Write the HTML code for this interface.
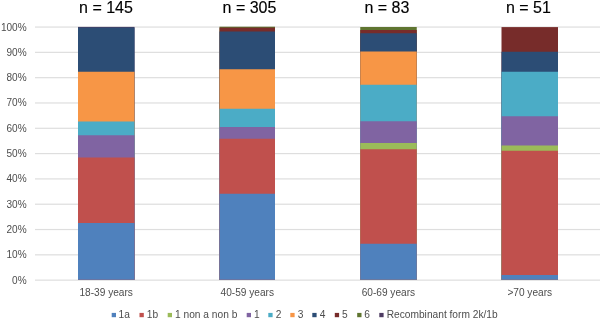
<!DOCTYPE html><html><head><meta charset="utf-8"><style>
html,body{margin:0;padding:0;background:#fff}
body{width:600px;height:321px;position:relative;overflow:hidden;font-family:"Liberation Sans",sans-serif}
.t{position:absolute;white-space:nowrap;line-height:1;filter:blur(0.3px)}
.y{font-size:10.05px;color:#4d4d4d;width:30px;text-align:right;left:-3.4px}
.c{font-size:10.15px;color:#4d4d4d;width:100px;text-align:center}
.n{font-size:16px;color:#000;width:100px;text-align:center;top:0px;-webkit-text-stroke:0.15px #000}
.l{font-size:10.2px;color:#4d4d4d;top:309.9px}
</style></head><body>
<svg width="600" height="321" viewBox="0 0 600 321" style="position:absolute;left:0;top:0">
<rect x="35" y="279.55" width="565" height="1.2" fill="#DEDEDE"/>
<rect x="35" y="254.24" width="565" height="1.2" fill="#DEDEDE"/>
<rect x="35" y="228.93" width="565" height="1.2" fill="#DEDEDE"/>
<rect x="35" y="203.62" width="565" height="1.2" fill="#DEDEDE"/>
<rect x="35" y="178.31" width="565" height="1.2" fill="#DEDEDE"/>
<rect x="35" y="153.00" width="565" height="1.2" fill="#DEDEDE"/>
<rect x="35" y="127.69" width="565" height="1.2" fill="#DEDEDE"/>
<rect x="35" y="102.38" width="565" height="1.2" fill="#DEDEDE"/>
<rect x="35" y="77.07" width="565" height="1.2" fill="#DEDEDE"/>
<rect x="35" y="51.76" width="565" height="1.2" fill="#DEDEDE"/>
<rect x="35" y="26.45" width="565" height="1.2" fill="#DEDEDE"/>
<rect x="78.0" y="26.9" width="56.5" height="252.80" fill="#4D3B62"/>
<rect x="78.0" y="27.5" width="56.5" height="252.20" fill="#2C4D75"/>
<rect x="78.0" y="71.75" width="56.5" height="207.95" fill="#F79646"/>
<rect x="78.0" y="121.5" width="56.5" height="158.20" fill="#4BACC6"/>
<rect x="78.0" y="135.25" width="56.5" height="144.45" fill="#8064A2"/>
<rect x="78.0" y="157.5" width="56.5" height="122.20" fill="#C0504D"/>
<rect x="78.0" y="223.0" width="56.5" height="56.70" fill="#4F81BD"/>
<rect x="219.5" y="26.7" width="55.5" height="253.00" fill="#5F7530"/>
<rect x="219.5" y="27.6" width="55.5" height="252.10" fill="#772C2A"/>
<rect x="219.5" y="31.5" width="55.5" height="248.20" fill="#2C4D75"/>
<rect x="219.5" y="69.25" width="55.5" height="210.45" fill="#F79646"/>
<rect x="219.5" y="108.75" width="55.5" height="170.95" fill="#4BACC6"/>
<rect x="219.5" y="127.0" width="55.5" height="152.70" fill="#8064A2"/>
<rect x="219.5" y="138.75" width="55.5" height="140.95" fill="#C0504D"/>
<rect x="219.5" y="193.75" width="55.5" height="85.95" fill="#4F81BD"/>
<rect x="360.25" y="27.0" width="56.5" height="252.70" fill="#5F7530"/>
<rect x="360.25" y="30.0" width="56.5" height="249.70" fill="#772C2A"/>
<rect x="360.25" y="33.25" width="56.5" height="246.45" fill="#2C4D75"/>
<rect x="360.25" y="51.5" width="56.5" height="228.20" fill="#F79646"/>
<rect x="360.25" y="84.75" width="56.5" height="194.95" fill="#4BACC6"/>
<rect x="360.25" y="121.25" width="56.5" height="158.45" fill="#8064A2"/>
<rect x="360.25" y="143.0" width="56.5" height="136.70" fill="#9BBB59"/>
<rect x="360.25" y="149.25" width="56.5" height="130.45" fill="#C0504D"/>
<rect x="360.25" y="243.75" width="56.5" height="35.95" fill="#4F81BD"/>
<rect x="501.5" y="27.1" width="56.5" height="252.60" fill="#772C2A"/>
<rect x="501.5" y="51.75" width="56.5" height="227.95" fill="#2C4D75"/>
<rect x="501.5" y="71.75" width="56.5" height="207.95" fill="#4BACC6"/>
<rect x="501.5" y="116.25" width="56.5" height="163.45" fill="#8064A2"/>
<rect x="501.5" y="145.5" width="56.5" height="134.20" fill="#9BBB59"/>
<rect x="501.5" y="150.75" width="56.5" height="128.95" fill="#C0504D"/>
<rect x="501.5" y="275.0" width="56.5" height="4.70" fill="#4F81BD"/>
<rect x="111.7" y="312.9" width="4.3" height="4.3" fill="#4F81BD"/>
<rect x="139.5" y="312.9" width="4.3" height="4.3" fill="#C0504D"/>
<rect x="167.7" y="312.9" width="4.3" height="4.3" fill="#9BBB59"/>
<rect x="246.7" y="312.9" width="4.3" height="4.3" fill="#8064A2"/>
<rect x="268.3" y="312.9" width="4.3" height="4.3" fill="#4BACC6"/>
<rect x="290.3" y="312.9" width="4.3" height="4.3" fill="#F79646"/>
<rect x="312.3" y="312.9" width="4.3" height="4.3" fill="#2C4D75"/>
<rect x="334.8" y="312.9" width="4.3" height="4.3" fill="#772C2A"/>
<rect x="357.2" y="312.9" width="4.3" height="4.3" fill="#5F7530"/>
<rect x="379.3" y="312.9" width="4.3" height="4.3" fill="#4D3B62"/>
</svg>
<div class="t y" style="top:275.65px">0%</div>
<div class="t y" style="top:250.34px">10%</div>
<div class="t y" style="top:225.03px">20%</div>
<div class="t y" style="top:199.72px">30%</div>
<div class="t y" style="top:174.41px">40%</div>
<div class="t y" style="top:149.10px">50%</div>
<div class="t y" style="top:123.79px">60%</div>
<div class="t y" style="top:98.48px">70%</div>
<div class="t y" style="top:73.17px">80%</div>
<div class="t y" style="top:47.86px">90%</div>
<div class="t y" style="top:22.55px">100%</div>
<div class="t c" style="left:56.20px;top:288.1px">18-39 years</div>
<div class="t c" style="left:197.30px;top:288.1px">40-59 years</div>
<div class="t c" style="left:338.40px;top:288.1px">60-69 years</div>
<div class="t c" style="left:479.75px;top:288.1px">&gt;70 years</div>
<div class="t n" style="left:56.00px">n = 145</div>
<div class="t n" style="left:199.50px">n = 305</div>
<div class="t n" style="left:336.90px">n = 83</div>
<div class="t n" style="left:478.40px">n = 51</div>
<div class="t l" style="left:118.5px">1a</div>
<div class="t l" style="left:146.8px">1b</div>
<div class="t l" style="left:175.0px">1 non a non b</div>
<div class="t l" style="left:254.0px">1</div>
<div class="t l" style="left:275.7px">2</div>
<div class="t l" style="left:297.8px">3</div>
<div class="t l" style="left:319.8px">4</div>
<div class="t l" style="left:342.0px">5</div>
<div class="t l" style="left:364.2px">6</div>
<div class="t l" style="left:386.7px">Recombinant form 2k/1b</div>
</body></html>
